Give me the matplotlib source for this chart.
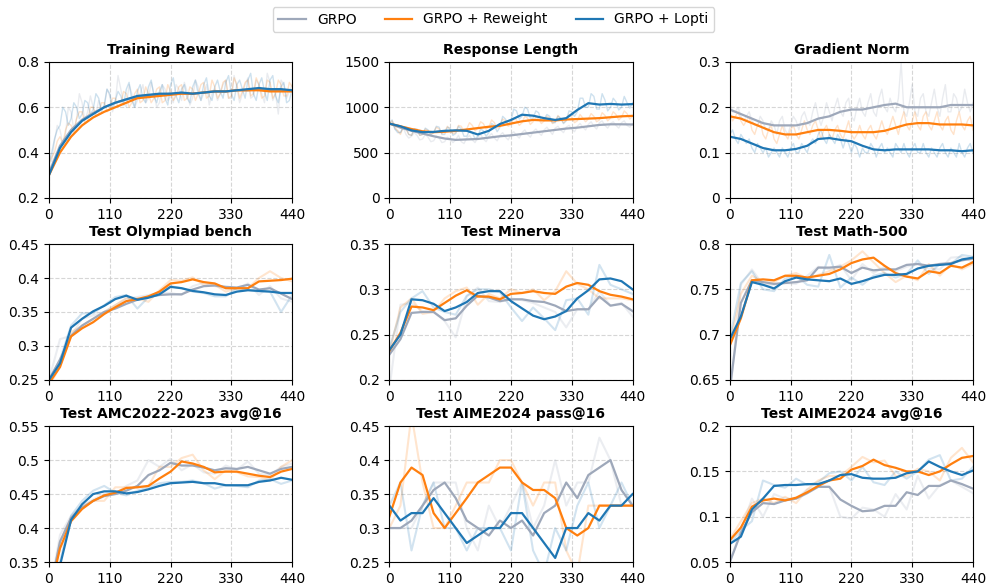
import numpy as np
import matplotlib
matplotlib.use("Agg")
import matplotlib.pyplot as plt
from matplotlib.ticker import FuncFormatter

# colours / labels
labels = ['GRPO', 'GRPO + Reweight', 'GRPO + Lopti']
colors = ['#9ea8ba', '#ff7f0e', '#1f77b4']

# x grids (raw training logs every 5 steps, evaluations every 20)
steps_train = np.arange(0, 441, 20)
steps_test = np.arange(0, 441, 20)

# ---------------- Training Reward ----------------
reward_raw = [
    [0.40, 0.36, 0.45, 0.52, 0.50, 0.44, 0.48, 0.60, 0.58, 0.50, 0.55, 0.66, 0.62, 0.54, 0.58, 0.65, 0.60, 0.57, 0.63, 0.59,
     0.60, 0.68, 0.65, 0.58, 0.62, 0.74, 0.68, 0.62, 0.60, 0.70, 0.66, 0.60, 0.63, 0.66, 0.70, 0.62, 0.64, 0.71, 0.66, 0.60,
     0.62, 0.70, 0.68, 0.63, 0.65, 0.62, 0.70, 0.68, 0.63, 0.71, 0.67, 0.61, 0.64, 0.72, 0.69, 0.63, 0.66, 0.70, 0.61, 0.66,
     0.68, 0.63, 0.66, 0.70, 0.72, 0.64, 0.64, 0.74, 0.69, 0.62, 0.66, 0.70, 0.73, 0.64, 0.65, 0.72, 0.70, 0.66, 0.62, 0.75,
     0.71, 0.63, 0.66, 0.57, 0.72, 0.70, 0.64, 0.67, 0.70],
    [0.35, 0.38, 0.40, 0.45, 0.47, 0.44, 0.50, 0.53, 0.52, 0.49, 0.55, 0.58, 0.58, 0.53, 0.54, 0.60, 0.60, 0.56, 0.57, 0.62,
     0.62, 0.58, 0.59, 0.64, 0.64, 0.60, 0.61, 0.67, 0.66, 0.60, 0.62, 0.66, 0.68, 0.62, 0.63, 0.69, 0.66, 0.62, 0.64, 0.68,
     0.69, 0.62, 0.63, 0.70, 0.67, 0.63, 0.65, 0.69, 0.70, 0.63, 0.64, 0.69, 0.68, 0.63, 0.66, 0.70, 0.71, 0.64, 0.65, 0.72,
     0.69, 0.64, 0.66, 0.71, 0.72, 0.64, 0.65, 0.73, 0.70, 0.64, 0.67, 0.71, 0.72, 0.65, 0.66, 0.73, 0.70, 0.64, 0.65, 0.72,
     0.71, 0.64, 0.66, 0.72, 0.70, 0.65, 0.65, 0.71, 0.69],
    [0.35, 0.40, 0.46, 0.50, 0.52, 0.60, 0.58, 0.52, 0.55, 0.62, 0.60, 0.55, 0.57, 0.63, 0.62, 0.57, 0.59, 0.66, 0.64, 0.58,
     0.61, 0.68, 0.66, 0.60, 0.63, 0.67, 0.65, 0.61, 0.68, 0.71, 0.63, 0.60, 0.67, 0.70, 0.64, 0.62, 0.69, 0.72, 0.65, 0.62,
     0.67, 0.70, 0.64, 0.61, 0.70, 0.73, 0.65, 0.62, 0.68, 0.70, 0.64, 0.62, 0.69, 0.72, 0.66, 0.63, 0.70, 0.73, 0.65, 0.63,
     0.69, 0.72, 0.67, 0.64, 0.71, 0.74, 0.66, 0.63, 0.70, 0.72, 0.68, 0.64, 0.72, 0.75, 0.66, 0.63, 0.70, 0.73, 0.67, 0.63,
     0.72, 0.74, 0.65, 0.62, 0.69, 0.71, 0.62, 0.63, 0.68],
]
reward_smooth = [
    [0.31, 0.43, 0.50, 0.545, 0.575, 0.60, 0.62, 0.635, 0.645, 0.65, 0.655, 0.66, 0.66, 0.66, 0.665, 0.67, 0.67, 0.675, 0.675, 0.68, 0.675, 0.675, 0.675],
    [0.30, 0.40, 0.47, 0.52, 0.555, 0.58, 0.60, 0.62, 0.64, 0.645, 0.65, 0.655, 0.66, 0.66, 0.665, 0.67, 0.67, 0.675, 0.675, 0.675, 0.67, 0.67, 0.67],
    [0.30, 0.42, 0.49, 0.54, 0.57, 0.60, 0.62, 0.635, 0.65, 0.655, 0.66, 0.66, 0.665, 0.66, 0.665, 0.67, 0.67, 0.675, 0.68, 0.685, 0.68, 0.68, 0.675],
]

# ---------------- Response Length ----------------
length_raw = [
    [800, 830, 760, 740, 720, 780, 700, 660, 680, 720, 690, 640, 650, 700, 670, 620, 630, 680, 660, 610,
     620, 670, 650, 610, 640, 690, 620, 600, 660, 690, 640, 610, 670, 700, 650, 620, 680, 710, 660, 630,
     690, 720, 670, 640, 700, 730, 690, 660, 720, 750, 700, 670, 730, 760, 720, 690, 750, 780, 740, 700,
     770, 790, 750, 720, 780, 800, 760, 730, 790, 820, 780, 750, 810, 840, 790, 760, 830, 850, 800, 770,
     820, 840, 800, 770, 830, 850, 800, 780, 820],
    [820, 850, 780, 740, 700, 780, 760, 700, 690, 760, 750, 690, 700, 760, 740, 700, 720, 780, 760, 710,
     730, 790, 750, 710, 720, 800, 790, 730, 760, 830, 800, 740, 770, 840, 820, 760, 780, 860, 830, 770,
     800, 870, 850, 790, 810, 880, 860, 800, 830, 900, 880, 810, 840, 890, 870, 820, 850, 900, 880, 820,
     840, 910, 870, 830, 860, 920, 890, 830, 850, 920, 880, 840, 870, 930, 900, 840, 860, 940, 910, 850,
     880, 950, 920, 860, 890, 960, 930, 870, 900],
    [830, 860, 760, 720, 720, 780, 780, 700, 690, 760, 760, 690, 700, 770, 750, 700, 720, 790, 780, 700,
     700, 780, 770, 690, 710, 790, 760, 680, 680, 740, 720, 650, 680, 760, 740, 680, 720, 820, 800, 730,
     780, 900, 870, 810, 850, 980, 960, 870, 900, 1000, 980, 880, 880, 960, 940, 850, 870, 920, 900, 830,
     830, 900, 880, 820, 850, 960, 950, 900, 950, 1100, 1100, 1000, 1000, 1150, 1120, 980, 980, 1150, 1080, 960,
     1000, 1100, 1060, 970, 1000, 1120, 1050, 990, 1050],
]
length_smooth = [
    [820, 775, 740, 710, 680, 655, 640, 645, 650, 665, 680, 690, 705, 720, 735, 750, 765, 775, 790, 805, 812, 812, 810],
    [820, 790, 760, 735, 725, 730, 740, 755, 770, 785, 795, 820, 845, 860, 855, 855, 865, 870, 875, 880, 890, 900, 905],
    [820, 790, 745, 725, 728, 740, 745, 740, 700, 740, 815, 860, 918, 907, 880, 860, 880, 970, 1045, 1030, 1037, 1030, 1035],
]

# ---------------- Gradient Norm ----------------
grad_raw = [
    [0.21, 0.19, 0.19, 0.20, 0.18, 0.17, 0.18, 0.19, 0.17, 0.16, 0.16, 0.18, 0.17, 0.15, 0.15, 0.17, 0.16, 0.14, 0.17, 0.18,
     0.15, 0.14, 0.16, 0.18, 0.17, 0.15, 0.18, 0.19, 0.17, 0.16, 0.19, 0.21, 0.18, 0.16, 0.18, 0.21, 0.19, 0.17, 0.20, 0.22,
     0.19, 0.18, 0.21, 0.22, 0.18, 0.17, 0.20, 0.22, 0.19, 0.18, 0.21, 0.23, 0.19, 0.18, 0.22, 0.24, 0.20, 0.19, 0.22, 0.20,
     0.19, 0.22, 0.30, 0.19, 0.18, 0.21, 0.25, 0.19, 0.18, 0.22, 0.23, 0.19, 0.18, 0.21, 0.24, 0.20, 0.18, 0.22, 0.25, 0.19,
     0.19, 0.23, 0.22, 0.19, 0.20, 0.24, 0.21, 0.19, 0.21],
    [0.19, 0.17, 0.18, 0.19, 0.17, 0.16, 0.17, 0.18, 0.15, 0.14, 0.16, 0.17, 0.14, 0.13, 0.15, 0.16, 0.13, 0.12, 0.14, 0.16,
     0.14, 0.13, 0.15, 0.16, 0.14, 0.13, 0.15, 0.17, 0.15, 0.14, 0.16, 0.17, 0.15, 0.13, 0.15, 0.16, 0.14, 0.13, 0.15, 0.16,
     0.14, 0.13, 0.15, 0.17, 0.14, 0.13, 0.14, 0.16, 0.14, 0.13, 0.15, 0.16, 0.14, 0.13, 0.15, 0.17, 0.15, 0.14, 0.16, 0.18,
     0.16, 0.14, 0.17, 0.19, 0.16, 0.15, 0.17, 0.19, 0.16, 0.15, 0.18, 0.19, 0.16, 0.15, 0.17, 0.19, 0.16, 0.15, 0.17, 0.18,
     0.15, 0.14, 0.17, 0.19, 0.16, 0.15, 0.17, 0.18, 0.15],
    [0.14, 0.15, 0.13, 0.12, 0.14, 0.13, 0.12, 0.13, 0.11, 0.10, 0.12, 0.11, 0.10, 0.11, 0.09, 0.10, 0.11, 0.10, 0.09, 0.11,
     0.10, 0.09, 0.11, 0.12, 0.10, 0.10, 0.12, 0.11, 0.10, 0.12, 0.13, 0.12, 0.14, 0.15, 0.13, 0.12, 0.14, 0.13, 0.12, 0.14,
     0.13, 0.11, 0.13, 0.12, 0.10, 0.12, 0.11, 0.09, 0.11, 0.10, 0.10, 0.12, 0.11, 0.09, 0.11, 0.12, 0.10, 0.11, 0.10, 0.09,
     0.12, 0.11, 0.10, 0.12, 0.10, 0.09, 0.11, 0.12, 0.10, 0.10, 0.12, 0.10, 0.09, 0.11, 0.10, 0.09, 0.11, 0.12, 0.10, 0.09,
     0.11, 0.10, 0.09, 0.12, 0.10, 0.09, 0.11, 0.12, 0.10],
]
grad_smooth = [
    [0.195, 0.185, 0.175, 0.165, 0.16, 0.16, 0.16, 0.165, 0.175, 0.18, 0.19, 0.195, 0.195, 0.20, 0.205, 0.208, 0.20, 0.20, 0.20, 0.20, 0.205, 0.205, 0.205],
    [0.18, 0.175, 0.165, 0.155, 0.145, 0.14, 0.14, 0.145, 0.15, 0.15, 0.148, 0.145, 0.145, 0.145, 0.148, 0.155, 0.162, 0.165, 0.165, 0.162, 0.162, 0.162, 0.16],
    [0.135, 0.13, 0.12, 0.11, 0.105, 0.105, 0.108, 0.115, 0.13, 0.132, 0.128, 0.125, 0.115, 0.107, 0.105, 0.107, 0.107, 0.107, 0.107, 0.105, 0.105, 0.103, 0.105],
]

# ---------------- Test Olympiad bench ----------------
olym_raw = [
    [0.25, 0.31, 0.315, 0.34, 0.345, 0.35, 0.36, 0.37, 0.372, 0.375, 0.378, 0.378, 0.375, 0.388, 0.393, 0.388, 0.385, 0.384, 0.392, 0.375, 0.388, 0.37, 0.365],
    [0.24, 0.27, 0.32, 0.33, 0.34, 0.35, 0.36, 0.37, 0.37, 0.365, 0.382, 0.397, 0.396, 0.401, 0.39, 0.39, 0.38, 0.385, 0.385, 0.40, 0.41, 0.40, 0.395],
    [0.25, 0.28, 0.33, 0.348, 0.348, 0.36, 0.372, 0.375, 0.355, 0.372, 0.378, 0.388, 0.385, 0.38, 0.378, 0.373, 0.373, 0.385, 0.383, 0.38, 0.38, 0.35, 0.375],
]
olym_smooth = [
    [0.25, 0.28, 0.315, 0.33, 0.34, 0.35, 0.355, 0.362, 0.368, 0.372, 0.375, 0.376, 0.376, 0.383, 0.388, 0.389, 0.387, 0.386, 0.39, 0.383, 0.385, 0.377, 0.369],
    [0.245, 0.269, 0.314, 0.326, 0.335, 0.347, 0.357, 0.366, 0.369, 0.373, 0.38, 0.392, 0.394, 0.398, 0.394, 0.392, 0.385, 0.385, 0.385, 0.395, 0.396, 0.397, 0.399],
    [0.25, 0.2745, 0.327, 0.34, 0.351, 0.359, 0.369, 0.374, 0.368, 0.371, 0.376, 0.387, 0.385, 0.381, 0.379, 0.376, 0.375, 0.38, 0.382, 0.381, 0.38, 0.378, 0.378],
]

# ---------------- Test Minerva ----------------
minerva_raw = [
    [0.19, 0.283, 0.285, 0.276, 0.275, 0.265, 0.247, 0.292, 0.302, 0.287, 0.286, 0.29, 0.288, 0.285, 0.28, 0.275, 0.258, 0.278, 0.278, 0.298, 0.282, 0.285, 0.27],
    [0.23, 0.28, 0.29, 0.273, 0.275, 0.29, 0.298, 0.302, 0.283, 0.295, 0.29, 0.30, 0.296, 0.30, 0.288, 0.298, 0.32, 0.306, 0.30, 0.29, 0.29, 0.29, 0.288],
    [0.235, 0.275, 0.29, 0.298, 0.28, 0.275, 0.272, 0.293, 0.30, 0.30, 0.297, 0.28, 0.265, 0.28, 0.268, 0.255, 0.288, 0.29, 0.272, 0.327, 0.305, 0.30, 0.295],
]
minerva_smooth = [
    [0.228, 0.245, 0.274, 0.275, 0.275, 0.266, 0.268, 0.282, 0.293, 0.291, 0.287, 0.289, 0.289, 0.287, 0.286, 0.282, 0.276, 0.278, 0.278, 0.292, 0.282, 0.284, 0.276],
    [0.232, 0.252, 0.281, 0.28, 0.277, 0.285, 0.293, 0.299, 0.292, 0.292, 0.289, 0.295, 0.296, 0.298, 0.296, 0.295, 0.303, 0.307, 0.305, 0.298, 0.294, 0.292, 0.289],
    [0.233, 0.25, 0.289, 0.288, 0.284, 0.276, 0.28, 0.286, 0.296, 0.298, 0.298, 0.287, 0.279, 0.271, 0.267, 0.27, 0.276, 0.29, 0.299, 0.311, 0.312, 0.309, 0.30],
]

# ---------------- Test Math-500 ----------------
math_raw = [
    [0.63, 0.755, 0.772, 0.755, 0.755, 0.757, 0.756, 0.765, 0.775, 0.772, 0.777, 0.76, 0.778, 0.768, 0.775, 0.77, 0.775, 0.778, 0.773, 0.772, 0.785, 0.786, 0.78],
    [0.69, 0.745, 0.765, 0.758, 0.758, 0.765, 0.768, 0.762, 0.766, 0.77, 0.775, 0.782, 0.792, 0.78, 0.768, 0.758, 0.765, 0.76, 0.778, 0.765, 0.778, 0.772, 0.778],
    [0.695, 0.757, 0.77, 0.75, 0.748, 0.762, 0.765, 0.755, 0.753, 0.788, 0.752, 0.763, 0.755, 0.765, 0.768, 0.763, 0.767, 0.782, 0.767, 0.778, 0.778, 0.788, 0.786],
]
math_smooth = [
    [0.64, 0.735, 0.76, 0.758, 0.756, 0.757, 0.758, 0.76, 0.774, 0.774, 0.775, 0.768, 0.774, 0.771, 0.772, 0.772, 0.777, 0.778, 0.776, 0.778, 0.779, 0.782, 0.784],
    [0.688, 0.718, 0.76, 0.761, 0.76, 0.765, 0.765, 0.763, 0.765, 0.767, 0.772, 0.779, 0.783, 0.785, 0.776, 0.768, 0.764, 0.762, 0.77, 0.768, 0.776, 0.774, 0.78],
    [0.695, 0.72, 0.758, 0.755, 0.751, 0.759, 0.763, 0.761, 0.76, 0.759, 0.762, 0.756, 0.759, 0.763, 0.766, 0.766, 0.767, 0.773, 0.776, 0.777, 0.778, 0.783, 0.785],
]

# ---------------- Test AMC2022-2023 avg@16 ----------------
amc_raw = [
    [0.30, 0.39, 0.418, 0.433, 0.442, 0.45, 0.45, 0.462, 0.47, 0.50, 0.49, 0.502, 0.485, 0.494, 0.482, 0.48, 0.492, 0.486, 0.498, 0.48, 0.478, 0.49, 0.495],
    [0.30, 0.38, 0.415, 0.432, 0.44, 0.44, 0.46, 0.46, 0.46, 0.462, 0.49, 0.49, 0.503, 0.508, 0.485, 0.472, 0.485, 0.482, 0.476, 0.475, 0.47, 0.49, 0.50],
    [0.30, 0.35, 0.418, 0.44, 0.455, 0.462, 0.452, 0.448, 0.455, 0.46, 0.466, 0.468, 0.468, 0.47, 0.466, 0.458, 0.463, 0.462, 0.46, 0.47, 0.472, 0.465, 0.47],
]
amc_smooth = [
    [0.30, 0.38, 0.415, 0.43, 0.44, 0.447, 0.45, 0.455, 0.462, 0.478, 0.485, 0.496, 0.492, 0.492, 0.489, 0.485, 0.488, 0.487, 0.49, 0.485, 0.48, 0.487, 0.49],
    [0.30, 0.37, 0.41, 0.428, 0.44, 0.448, 0.452, 0.459, 0.46, 0.462, 0.473, 0.483, 0.498, 0.495, 0.49, 0.482, 0.483, 0.483, 0.48, 0.477, 0.475, 0.483, 0.487],
    [0.29, 0.345, 0.412, 0.435, 0.45, 0.454, 0.454, 0.451, 0.453, 0.457, 0.462, 0.466, 0.467, 0.468, 0.466, 0.466, 0.463, 0.463, 0.463, 0.468, 0.47, 0.474, 0.471],
]

# ---------------- Test AIME2024 pass@16 ----------------
pass_raw = [
    [0.30, 0.30, 0.30, 0.333, 0.367, 0.367, 0.367, 0.30, 0.267, 0.333, 0.30, 0.333, 0.367, 0.30, 0.333, 0.40, 0.333, 0.367, 0.367, 0.433, 0.40, 0.333, 0.333],
    [0.30, 0.333, 0.467, 0.367, 0.30, 0.30, 0.333, 0.367, 0.367, 0.367, 0.40, 0.40, 0.367, 0.333, 0.367, 0.367, 0.267, 0.233, 0.333, 0.333, 0.333, 0.333, 0.333],
    [0.333, 0.367, 0.267, 0.333, 0.367, 0.30, 0.30, 0.267, 0.30, 0.30, 0.30, 0.267, 0.367, 0.267, 0.233, 0.30, 0.267, 0.333, 0.367, 0.30, 0.333, 0.367, 0.333],
]
pass_smooth = [
    [0.30, 0.30, 0.311, 0.333, 0.356, 0.367, 0.344, 0.311, 0.30, 0.289, 0.311, 0.30, 0.311, 0.289, 0.322, 0.333, 0.367, 0.344, 0.378, 0.389, 0.40, 0.356, 0.333],
    [0.317, 0.367, 0.389, 0.378, 0.322, 0.30, 0.322, 0.344, 0.367, 0.378, 0.389, 0.389, 0.367, 0.356, 0.356, 0.344, 0.30, 0.289, 0.30, 0.333, 0.333, 0.333, 0.333],
    [0.333, 0.311, 0.322, 0.322, 0.344, 0.322, 0.30, 0.278, 0.289, 0.30, 0.30, 0.322, 0.322, 0.30, 0.278, 0.256, 0.30, 0.30, 0.322, 0.311, 0.333, 0.333, 0.35],
]

# ---------------- Test AIME2024 avg@16 ----------------
avg_raw = [
    [0.05, 0.085, 0.12, 0.10, 0.125, 0.12, 0.12, 0.13, 0.133, 0.133, 0.10, 0.098, 0.11, 0.108, 0.10, 0.125, 0.108, 0.145, 0.12, 0.135, 0.14, 0.133, 0.126],
    [0.075, 0.095, 0.115, 0.12, 0.115, 0.122, 0.115, 0.13, 0.14, 0.145, 0.145, 0.155, 0.166, 0.16, 0.162, 0.145, 0.145, 0.153, 0.15, 0.14, 0.165, 0.176, 0.16],
    [0.07, 0.085, 0.095, 0.14, 0.135, 0.132, 0.142, 0.135, 0.138, 0.148, 0.15, 0.14, 0.155, 0.138, 0.135, 0.15, 0.142, 0.15, 0.163, 0.168, 0.14, 0.142, 0.155],
]
avg_smooth = [
    [0.05, 0.082, 0.105, 0.115, 0.114, 0.118, 0.12, 0.126, 0.133, 0.133, 0.119, 0.112, 0.106, 0.107, 0.112, 0.112, 0.127, 0.124, 0.134, 0.134, 0.14, 0.136, 0.131],
    [0.074, 0.088, 0.111, 0.118, 0.12, 0.118, 0.121, 0.127, 0.134, 0.14, 0.142, 0.152, 0.156, 0.163, 0.157, 0.154, 0.15, 0.15, 0.146, 0.15, 0.158, 0.165, 0.167],
    [0.07, 0.078, 0.108, 0.12, 0.134, 0.135, 0.135, 0.136, 0.136, 0.14, 0.146, 0.147, 0.143, 0.142, 0.142, 0.143, 0.148, 0.15, 0.161, 0.155, 0.15, 0.146, 0.151],
]

panels = [
    ('Training Reward', reward_raw, steps_train, reward_smooth, (0.2, 0.8), [0.2, 0.4, 0.6, 0.8]),
    ('Response Length', length_raw, steps_train, length_smooth, (0, 1500), [0, 500, 1000, 1500]),
    ('Gradient Norm', grad_raw, steps_train, grad_smooth, (0, 0.3), [0, 0.1, 0.2, 0.3]),
    ('Test Olympiad bench', olym_raw, steps_test, olym_smooth, (0.25, 0.45), [0.25, 0.3, 0.35, 0.4, 0.45]),
    ('Test Minerva', minerva_raw, steps_test, minerva_smooth, (0.2, 0.35), [0.2, 0.25, 0.3, 0.35]),
    ('Test Math-500', math_raw, steps_test, math_smooth, (0.65, 0.8), [0.65, 0.7, 0.75, 0.8]),
    ('Test AMC2022-2023 avg@16', amc_raw, steps_test, amc_smooth, (0.35, 0.55), [0.35, 0.4, 0.45, 0.5, 0.55]),
    ('Test AIME2024 pass@16', pass_raw, steps_test, pass_smooth, (0.25, 0.45), [0.25, 0.3, 0.35, 0.4, 0.45]),
    ('Test AIME2024 avg@16', avg_raw, steps_test, avg_smooth, (0.05, 0.2), [0.05, 0.1, 0.15, 0.2]),
]

fig, axes = plt.subplots(3, 3, figsize=(9.87, 5.88), dpi=100)
fig.subplots_adjust(left=0.0496, right=0.9858, top=0.8946, bottom=0.0442, wspace=0.40, hspace=0.34)

fmt = FuncFormatter(lambda v, p: f'{v:g}')
handles = []
for k, (ax, (title, raw, xs, smooth, ylim, yticks)) in enumerate(zip(axes.flat, panels)):
    dense = k < 3
    for i in range(3):
        xr = np.linspace(0, 440, len(raw[i]))
        ax.plot(xr, raw[i], color=colors[i], alpha=0.22 if dense else 0.2, lw=1.0 if dense else 1.5)
    for i in range(3):
        h, = ax.plot(xs, smooth[i], color=colors[i], lw=1.6, label=labels[i])
        if len(handles) < 3:
            handles.append(h)
    ax.set_title(title, fontsize=10, fontweight='bold')
    ax.set_xlim(0, 440)
    ax.set_ylim(*ylim)
    ax.set_xticks([0, 110, 220, 330, 440])
    ax.set_yticks(yticks)
    ax.yaxis.set_major_formatter(fmt)
    ax.tick_params(labelsize=10)
    ax.grid(True, linestyle='--', color='#cccccc', alpha=0.8, lw=0.8)

fig.legend(handles, labels, loc='upper center', ncol=3, bbox_to_anchor=(0.5, 1.0), fontsize=10, frameon=True)

fig.savefig('out.png', dpi=100)
